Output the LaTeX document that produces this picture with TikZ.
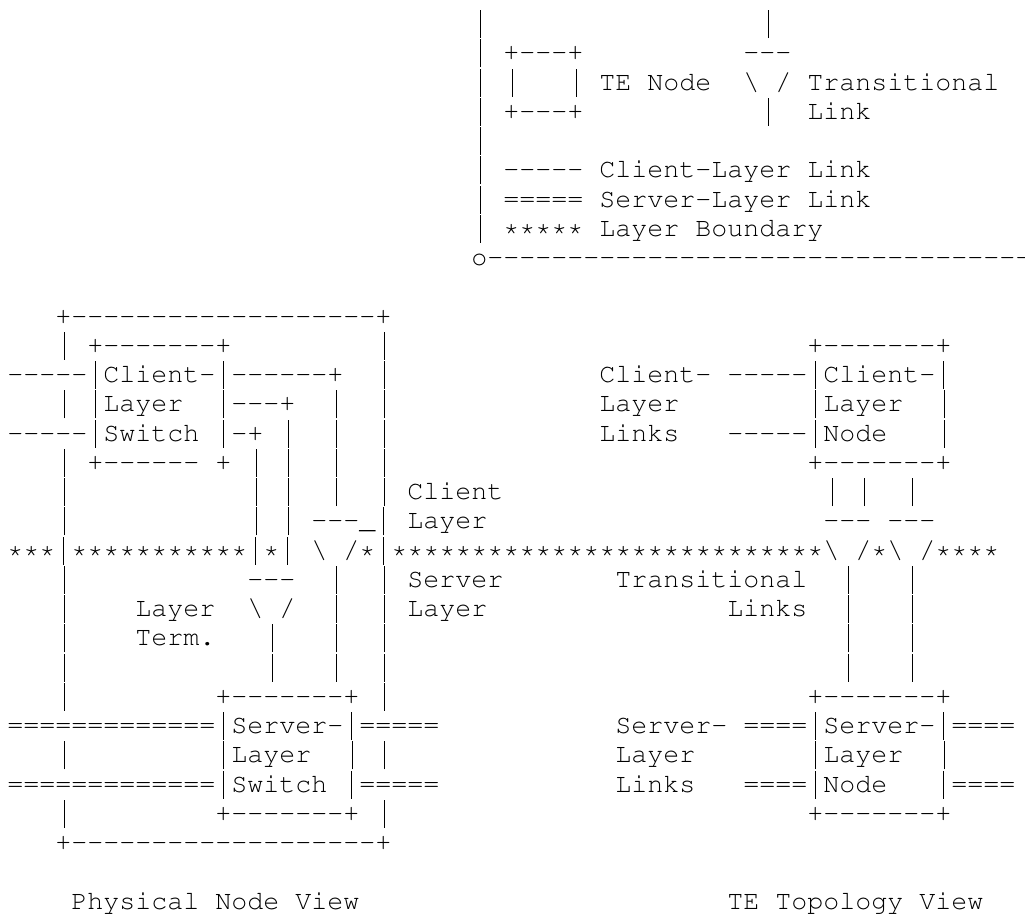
\documentclass[tikz,border=0pt]{standalone}
\usepackage[T1]{fontenc}
\usepackage{courier}
\makeatletter
\newcount\rpt@n
\newcommand\Rpt[2]{\rpt@n=#1\relax\loop\ifnum\rpt@n>0 #2\kern0pt\advance\rpt@n by -1\relax\repeat}
\makeatother
\newcommand\asciifont{\fontencoding{T1}\fontfamily{pcr}\fontseries{m}\fontshape{n}\fontsize{20}{22}\selectfont}
% vertical bar: the glyph, with a stroke as long as the reference's Courier New bar drawn on it
\newcommand\vb{\rlap{\textcolor{white}{|}}\smash{\rlap{\hspace{0.284em}\rule[-0.244em]{0.032em}{1.05em}}}\hspace{0.6em}}
\newcounter{tk}
\newcommand\Tok[3]{\stepcounter{tk}\node[asc] (t\arabic{tk}) at ({7.3+16*#1},{31.5+29.25*(#2-1)}) {#3};}
\newcommand\bs{\textbackslash}
\tikzset{asc/.style={anchor=base west,inner sep=0pt,outer sep=0pt,font=\asciifont,text=black}}
\begin{document}
\begin{tikzpicture}[x=0.75pt,y=-0.75pt]
\useasboundingbox (0,0) rectangle (1025,918);
\fill[white] (0,0) rectangle (1025,918);
% ---- legend
\Tok{29}{1}{\vb}\Tok{47}{1}{\vb}
\Tok{29}{2}{\vb}\Tok{31}{2}{+\Rpt{3}{-}+}\Tok{46}{2}{\Rpt{3}{-}}
\Tok{29}{3}{\vb}\Tok{31}{3}{\vb}\Tok{35}{3}{\vb}\Tok{37}{3}{TE Node}\Tok{46}{3}{\bs}\Tok{48}{3}{/}\Tok{50}{3}{Transitional}
\Tok{29}{4}{\vb}\Tok{31}{4}{+\Rpt{3}{-}+}\Tok{47}{4}{\vb}\Tok{50}{4}{Link}
\Tok{29}{5}{\vb}
\Tok{29}{6}{\vb}\Tok{31}{6}{\Rpt{5}{-}}\Tok{37}{6}{Client-Layer Link}
\Tok{29}{7}{\vb}\Tok{31}{7}{=====}\Tok{37}{7}{Server-Layer Link}
\Tok{29}{8}{\vb}\Tok{31}{8}{*****}\Tok{37}{8}{Layer Boundary}
\Tok{29}{9}{o\Rpt{34}{-}}
% ---- physical node view / TE topology view
\Tok{3}{11}{+\Rpt{19}{-}+}
\Tok{3}{12}{\vb}\Tok{5}{12}{+\Rpt{7}{-}+}\Tok{23}{12}{\vb}\Tok{50}{12}{+\Rpt{7}{-}+}
\Tok{0}{13}{\Rpt{5}{-}\vb Client-\vb\Rpt{6}{-}+}\Tok{23}{13}{\vb}\Tok{37}{13}{Client-}\Tok{45}{13}{\Rpt{5}{-}\vb Client-\vb}
\Tok{3}{14}{\vb}\Tok{5}{14}{\vb Layer}\Tok{13}{14}{\vb\Rpt{3}{-}+}\Tok{20}{14}{\vb}\Tok{23}{14}{\vb}\Tok{37}{14}{Layer}\Tok{50}{14}{\vb Layer}\Tok{58}{14}{\vb}
\Tok{0}{15}{\Rpt{5}{-}\vb Switch}\Tok{13}{15}{\vb-+}\Tok{17}{15}{\vb}\Tok{20}{15}{\vb}\Tok{23}{15}{\vb}\Tok{37}{15}{Links}\Tok{45}{15}{\Rpt{5}{-}\vb Node}\Tok{58}{15}{\vb}
\Tok{3}{16}{\vb}\Tok{5}{16}{+\Rpt{6}{-}}\Tok{13}{16}{+}\Tok{15}{16}{\vb}\Tok{17}{16}{\vb}\Tok{20}{16}{\vb}\Tok{23}{16}{\vb}\Tok{50}{16}{+\Rpt{7}{-}+}
\Tok{3}{17}{\vb}\Tok{15}{17}{\vb}\Tok{17}{17}{\vb}\Tok{20}{17}{\vb}\Tok{23}{17}{\vb}\Tok{25}{17}{Client}\Tok{51}{17}{\vb}\Tok{53}{17}{\vb}\Tok{56}{17}{\vb}
\Tok{3}{18}{\vb}\Tok{15}{18}{\vb}\Tok{17}{18}{\vb}\Tok{19}{18}{\Rpt{3}{-}\_\vb}\Tok{25}{18}{Layer}\Tok{51}{18}{\Rpt{3}{-}}\Tok{55}{18}{\Rpt{3}{-}}
\Tok{0}{19}{***\vb***********\vb*\vb}\Tok{19}{19}{\bs}\Tok{21}{19}{/*\vb\Rpt{27}{*}\bs}\Tok{53}{19}{/*\bs}\Tok{57}{19}{/****}
\Tok{3}{20}{\vb}\Tok{15}{20}{\Rpt{3}{-}}\Tok{20}{20}{\vb}\Tok{23}{20}{\vb}\Tok{25}{20}{Server}\Tok{38}{20}{Transitional}\Tok{52}{20}{\vb}\Tok{56}{20}{\vb}
\Tok{3}{21}{\vb}\Tok{8}{21}{Layer}\Tok{15}{21}{\bs}\Tok{17}{21}{/}\Tok{20}{21}{\vb}\Tok{23}{21}{\vb}\Tok{25}{21}{Layer}\Tok{45}{21}{Links}\Tok{52}{21}{\vb}\Tok{56}{21}{\vb}
\Tok{3}{22}{\vb}\Tok{8}{22}{Term.}\Tok{16}{22}{\vb}\Tok{20}{22}{\vb}\Tok{23}{22}{\vb}\Tok{52}{22}{\vb}\Tok{56}{22}{\vb}
\Tok{3}{23}{\vb}\Tok{16}{23}{\vb}\Tok{20}{23}{\vb}\Tok{23}{23}{\vb}\Tok{52}{23}{\vb}\Tok{56}{23}{\vb}
\Tok{3}{24}{\vb}\Tok{13}{24}{+\Rpt{7}{-}+}\Tok{23}{24}{\vb}\Tok{50}{24}{+\Rpt{7}{-}+}
\Tok{0}{25}{=============\vb Server-\vb=====}\Tok{38}{25}{Server-}\Tok{46}{25}{====\vb Server-\vb====}
\Tok{3}{26}{\vb}\Tok{13}{26}{\vb Layer}\Tok{21}{26}{\vb}\Tok{23}{26}{\vb}\Tok{38}{26}{Layer}\Tok{50}{26}{\vb Layer}\Tok{58}{26}{\vb}
\Tok{0}{27}{=============\vb Switch}\Tok{21}{27}{\vb=====}\Tok{38}{27}{Links}\Tok{46}{27}{====\vb Node}\Tok{58}{27}{\vb====}
\Tok{3}{28}{\vb}\Tok{13}{28}{+\Rpt{7}{-}+}\Tok{23}{28}{\vb}\Tok{50}{28}{+\Rpt{7}{-}+}
\Tok{3}{29}{+\Rpt{19}{-}+}
\Tok{4}{31}{Physical Node View}\Tok{45}{31}{TE Topology View}
\end{tikzpicture}
\end{document}
